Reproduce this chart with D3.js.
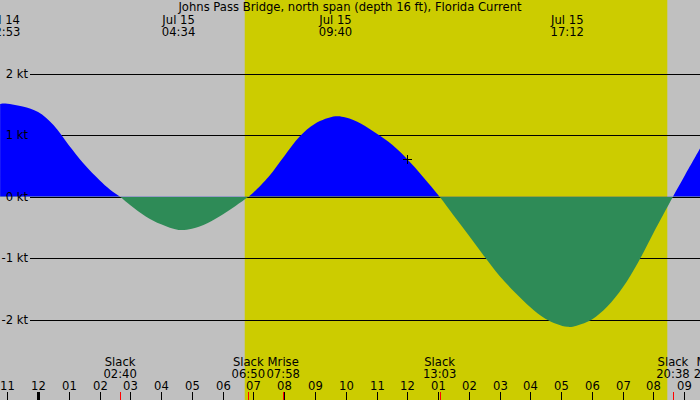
<!DOCTYPE html>
<html><head><meta charset="utf-8">
<script src="https://cdn.jsdelivr.net/npm/d3@7"></script>
<style>html,body{margin:0;padding:0;background:#c0c0c0;}svg{display:block;}text{font-family:"DejaVu Sans",sans-serif;font-size:11.6px;fill:#000;}</style>
</head><body>
<svg id="c" width="700" height="400"></svg>
<script>
const title = "Johns Pass Bridge, north span (depth 16 ft), Florida Current";
// current readings (knots)
const times = ["07-14 22:46","07-14 22:53","07-14 23:30","07-15 00:00","07-15 00:30","07-15 01:00","07-15 01:30","07-15 02:00","07-15 02:20","07-15 02:40",
  "07-15 03:00","07-15 03:30","07-15 04:00","07-15 04:34","07-15 05:00","07-15 05:30","07-15 06:00","07-15 06:25","07-15 06:50",
  "07-15 07:00","07-15 07:30","07-15 08:00","07-15 08:30","07-15 09:00","07-15 09:40","07-15 10:00","07-15 10:30","07-15 11:00","07-15 11:30","07-15 12:00","07-15 12:30","07-15 13:03",
  "07-15 13:30","07-15 14:00","07-15 14:30","07-15 15:00","07-15 15:30","07-15 16:00","07-15 16:30","07-15 17:12","07-15 17:30","07-15 18:00","07-15 18:30","07-15 19:00","07-15 19:30","07-15 20:00","07-15 20:38",
  "07-15 21:00","07-15 21:31"];
const knots = [1.51,1.52,1.47,1.38,1.17,0.84,0.53,0.27,0.12,0,
  -0.14,-0.32,-0.45,-0.54,-0.52,-0.43,-0.29,-0.15,0,
  0.07,0.33,0.66,0.98,1.19,1.31,1.29,1.19,1.03,0.85,0.61,0.33,0,
  -0.30,-0.63,-0.97,-1.29,-1.56,-1.80,-1.99,-2.12,-2.10,-2.00,-1.79,-1.48,-1.07,-0.59,0,
  0.33,0.79];
const yTicks = [2,1,0,-1,-2];
const yTickLabels = ["2 kt","1 kt","0 kt","-1 kt","-2 kt"];
// max current labels (top)
const maxTimes = ["07-14 22:53","07-15 04:34","07-15 09:40","07-15 17:12"];
const maxDays = ["Jul 14","Jul 15","Jul 15","Jul 15"];
const maxLabels = ["22:53","04:34","09:40","17:12"];
// events (bottom)
const evTimes = ["07-15 02:40","07-15 06:50","07-15 07:58","07-15 13:03","07-15 20:38","07-15 21:51"];
const evNames = ["Slack","Slack","Mrise","Slack","Slack","Mset"];
const evLabels = ["02:40","06:50","07:58","13:03","20:38","21:51"];
// daylight
const sunrise = "07-15 06:43";
const sunset = "07-15 20:27";
const domainStart = "07-14 22:45:46", domainEnd = "07-15 21:30:46";
const markTime = "07-15 12:00", markKnots = 0.61;

const p = s => d3.timeParse("%Y-%m-%d %H:%M:%S")("2024-" + (s.length === 11 ? s + ":00" : s));
const svg = d3.select("#c");
const W = 700, H = 400;
const x = d3.scaleTime().domain([p(domainStart), p(domainEnd)]).range([0, W]);
const y = d3.scaleLinear().domain([-2, 2]).range([319.5, 74]);
const data = times.map((t, i) => ({t: p(t), v: knots[i]}));

svg.append("rect").attr("width", W).attr("height", H).attr("fill", "#c0c0c0");
svg.append("rect").attr("x", x(p(sunrise))).attr("y", 0).attr("width", x(p(sunset)) - x(p(sunrise))).attr("height", H).attr("fill", "#cccc00");

// grid lines
svg.selectAll("line.grid").data(yTicks).join("line").attr("class", "grid")
  .attr("x1", 30).attr("x2", W).attr("y1", d => Math.round(y(d)) + 0.5).attr("y2", d => Math.round(y(d)) + 0.5)
  .attr("stroke", "#000").attr("stroke-width", 1);

// fills
const y0 = y(0);
const defs = svg.append("defs");
defs.append("clipPath").attr("id", "pos").append("rect").attr("x", 0).attr("y", 0).attr("width", W).attr("height", y0);
defs.append("clipPath").attr("id", "neg").append("rect").attr("x", 0).attr("y", y0).attr("width", W).attr("height", H - y0);
const area = d3.area().x(d => x(d.t)).y0(y0).y1(d => y(d.v)).curve(d3.curveCatmullRom.alpha(0.5));
svg.append("path").datum(data).attr("d", area).attr("fill", "#0000ff").attr("clip-path", "url(#pos)");
svg.append("path").datum(data).attr("d", area).attr("fill", "#2e8b57").attr("clip-path", "url(#neg)");

// y labels
svg.selectAll("text.yl").data(yTicks).join("text").attr("class", "yl")
  .attr("x", 28).attr("y", d => y(d) + 4).attr("text-anchor", "end").text((d, i) => yTickLabels[i]);

// marker
const mx = Math.round(x(p(markTime))) + 0.5, my = Math.round(y(markKnots)) + 0.5;
svg.append("line").attr("x1", mx - 4.5).attr("x2", mx + 4.5).attr("y1", my).attr("y2", my).attr("stroke", "#000");
svg.append("line").attr("x1", mx).attr("x2", mx).attr("y1", my - 4.5).attr("y2", my + 4.5).attr("stroke", "#000");

// title & max labels
svg.append("text").attr("x", 350).attr("y", 11).attr("text-anchor", "middle").text(title);
maxTimes.forEach((t, i) => {
  const xx = x(p(t));
  svg.append("text").attr("x", xx).attr("y", 24).attr("text-anchor", "middle").text(maxDays[i]);
  svg.append("text").attr("x", xx).attr("y", 36).attr("text-anchor", "middle").text(maxLabels[i]);
});

// hour axis
const hours = d3.timeHour.range(d3.timeHour.ceil(x.domain()[0]), x.domain()[1]);
const fmt = d3.timeFormat("%I");
hours.forEach(h => {
  const xx = Math.round(x(h));
  const mid = h.getHours() === 0;
  svg.append("rect").attr("x", mid ? xx - 1 : xx).attr("y", 392).attr("width", mid ? 3 : 1).attr("height", 8).attr("fill", "#000");
  svg.append("text").attr("x", xx + 0.5).attr("y", 389.5).attr("text-anchor", "middle").text(fmt(h));
});
// events
evTimes.forEach((t, i) => {
  const xx = x(p(t));
  svg.append("rect").attr("x", Math.round(xx)).attr("y", 392).attr("width", 1).attr("height", 8).attr("fill", "#ff0000");
  svg.append("text").attr("x", xx).attr("y", 366).attr("text-anchor", "middle").text(evNames[i]);
  svg.append("text").attr("x", xx).attr("y", 378).attr("text-anchor", "middle").text(evLabels[i]);
});
</script>
</body></html>
